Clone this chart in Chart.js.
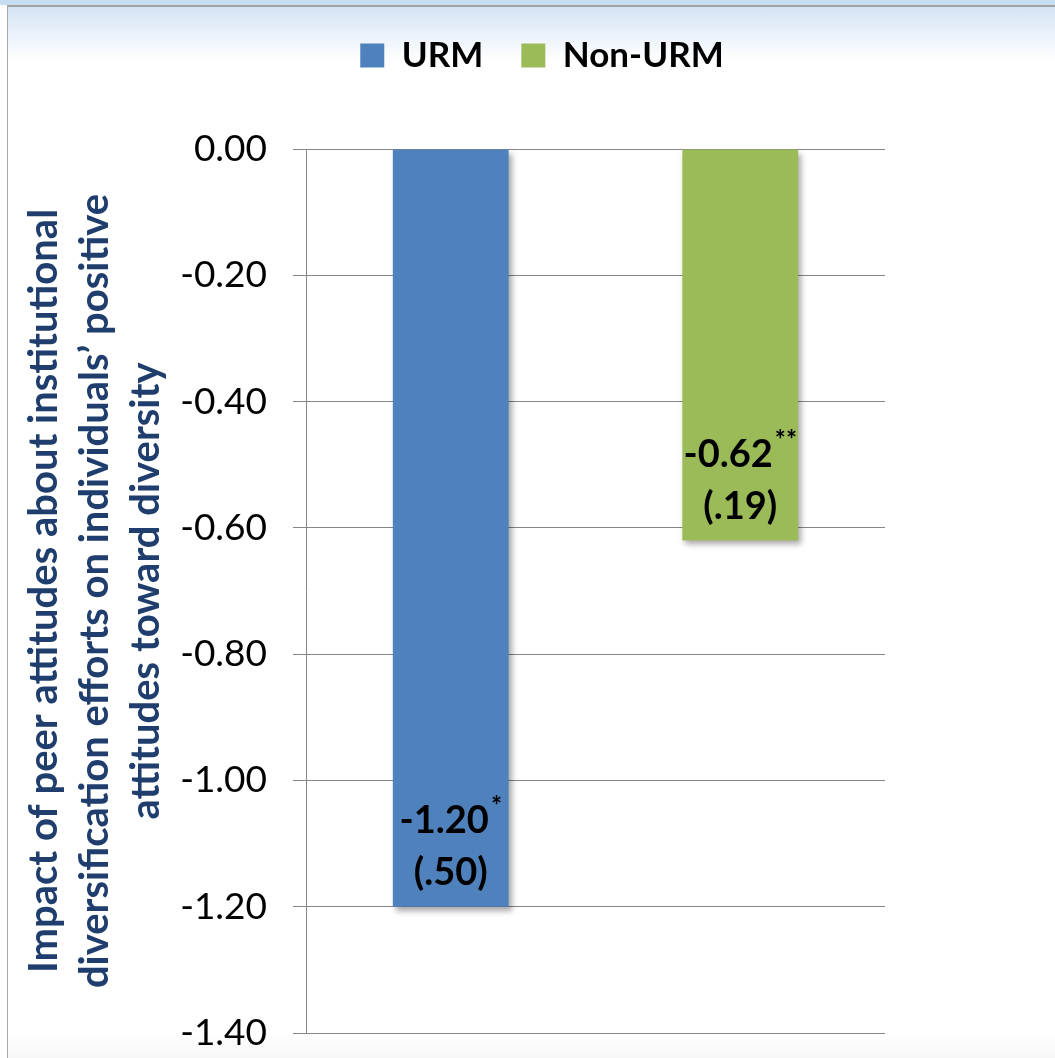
<!DOCTYPE html>
<html>
<head>
<meta charset="utf-8">
<title>Impact of peer attitudes - URM vs Non-URM</title>
<script src="https://cdn.jsdelivr.net/npm/chart.js@4.4.1/dist/chart.umd.min.js"></script>
<style>
    html, body { margin: 0; padding: 0; background: #ffffff; overflow: hidden; }
    #strip { position: absolute; left: 0; top: 0; width: 1055px; height: 5px; background: #c7ddf2; }
    #frame {
        position: absolute; left: 7px; top: 5px; width: 1048px; height: 1053px;
        border-left: 1px solid #a9a9a9; border-top: 2px solid #a3a3a3;
        background: linear-gradient(to bottom, #d3e4f4 0px, #e9f1fa 25px, #ffffff 55px, #ffffff 1025px, #f6f6f6 1053px);
    }
    #chart { position: absolute; left: 0; top: 0; }
</style>
</head>
<body>
<div id="strip"></div>
<div id="frame"></div>
<canvas id="chart" width="1055" height="1058"></canvas>
<script>
// --- Data ---
const categories = ['URM', 'Non-URM'];
const urmValues = [-1.20, null];
const nonUrmValues = [null, -0.62];
const coefLabels = ['-1.20', '-0.62'];
const starLabels = ['*', '**'];
const seLabels = ['(.50)', '(.19)'];
const yMin = -1.40;
const yMax = 0;
const yStep = 0.20;
const axisTitle = [
    'Impact of peer attitudes about institutional',
    'diversification efforts on individuals\u2019 positive',
    'attitudes toward diversity'
];

const FONT = 'Lato, "Open Sans", sans-serif';

// push the plot area down below the legend
const legendSpacer = {
    id: 'legendSpacer',
    beforeInit(chart) {
        const fitOrig = chart.legend.fit;
        chart.legend.fit = function () {
            fitOrig.bind(chart.legend)();
            this.height += 66;
        };
    },
    afterLayout(chart) {
        // legend sits centred over the whole frame, not the plot
        const lg = chart.legend;
        const shift = 542 - (lg.left + lg.right) / 2;
        lg.left += shift;
        lg.right += shift;
    }
};

// soft drop shadow under the bars
const barShadow = {
    id: 'barShadow',
    beforeDatasetsDraw(chart) {
        const ctx = chart.ctx;
        ctx.save();
        ctx.shadowColor = 'rgba(0, 0, 0, 0.35)';
        ctx.shadowBlur = 6;
        ctx.shadowOffsetX = 3;
        ctx.shadowOffsetY = 4;
    },
    afterDatasetsDraw(chart) {
        chart.ctx.restore();
    }
};

// coefficient + std. error written inside the bottom of each bar
const barLabels = {
    id: 'barLabels',
    afterDatasetsDraw(chart) {
        const ctx = chart.ctx;
        chart.data.datasets.forEach((ds, di) => {
            const meta = chart.getDatasetMeta(di);
            meta.data.forEach((bar, i) => {
                if (ds.data[i] === null) return;
                const x = bar.x;
                const bottom = bar.y;
                ctx.save();
                ctx.fillStyle = '#000';
                ctx.textBaseline = 'middle';

                const mainFont = 'bold 38px ' + FONT;
                const starFont = 'bold 26px ' + FONT;
                ctx.font = mainFont;
                const wMain = ctx.measureText(coefLabels[i]).width;
                ctx.font = starFont;
                const wStar = ctx.measureText(starLabels[i]).width;
                const startX = x - (wMain + wStar + 2) / 2;

                ctx.textAlign = 'left';
                ctx.font = mainFont;
                ctx.fillText(coefLabels[i], startX, bottom - 86);
                ctx.font = starFont;
                ctx.fillText(starLabels[i], startX + wMain + 2, bottom - 100);

                ctx.textAlign = 'center';
                ctx.font = mainFont;
                ctx.fillText(seLabels[i], x, bottom - 34);
                ctx.restore();
            });
        });
    }
};

const ctx = document.getElementById('chart').getContext('2d');
new Chart(ctx, {
    type: 'bar',
    data: {
        labels: categories,
        datasets: [
            {
                label: 'URM',
                data: urmValues,
                backgroundColor: '#4F81BD',
                borderWidth: 0
            },
            {
                label: 'Non-URM',
                data: nonUrmValues,
                backgroundColor: '#9BBB59',
                borderWidth: 0
            }
        ]
    },
    options: {
        responsive: false,
        animation: false,
        events: [],
        grouped: false,
        barPercentage: 0.4,
        categoryPercentage: 1.0,
        layout: {
            padding: { top: 0, left: 8, right: 170, bottom: 25 }
        },
        scales: {
            x: { display: false },
            y: {
                min: yMin,
                max: yMax,
                afterFit(scale) {
                    scale.width = 306 - 8;
                    // tick padding shouldn't eat into the plot height
                    scale.paddingTop = 0;
                    scale.paddingBottom = 0;
                },
                ticks: {
                    stepSize: yStep,
                    padding: 26,
                    color: '#000',
                    font: { family: FONT, size: 37 },
                    callback: v => v.toFixed(2)
                },
                grid: {
                    color: '#868686',
                    lineWidth: 1,
                    tickLength: 13
                },
                border: { color: '#868686', width: 1 },
                title: {
                    display: true,
                    text: axisTitle,
                    color: '#1F3E6D',
                    font: { family: FONT, size: 40, weight: 'bold', lineHeight: 1.28 },
                    padding: { top: 10, bottom: 0 }
                }
            }
        },
        plugins: {
            legend: {
                position: 'top',
                labels: {
                    color: '#000',
                    font: { family: FONT, size: 35, weight: 'bold' },
                    boxWidth: 24,
                    boxHeight: 24,
                    padding: 38
                }
            },
            tooltip: { enabled: false }
        }
    },
    plugins: [legendSpacer, barShadow, barLabels]
});
</script>
</body>
</html>
